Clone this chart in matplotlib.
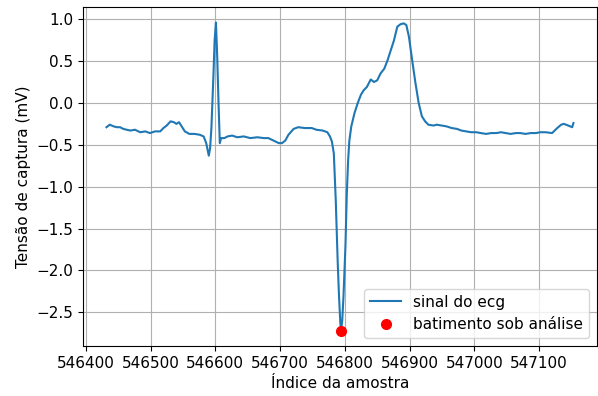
import matplotlib
matplotlib.use('Agg')
import matplotlib.pyplot as plt
import numpy as np

plt.rcParams['font.size'] = 11

# ECG trace (sample index, mV)
indice = [546432, 546437, 546443, 546448, 546453, 546458, 546463, 546469, 546476,
          546484, 546492, 546499, 546507, 546515, 546520, 546525, 546531, 546536,
          546540, 546544, 546548, 546553, 546560, 546568, 546576, 546582, 546586,
          546590, 546592, 546594, 546597, 546599, 546601, 546603, 546605, 546607,
          546609, 546614, 546619, 546626, 546634, 546644, 546654, 546665, 546675,
          546682, 546690, 546698, 546703, 546708, 546713, 546721, 546728, 546738,
          546749, 546756, 546766, 546773, 546777, 546780, 546783, 546786, 546789,
          546791, 546793, 546794, 546796, 546798, 546801, 546803, 546805, 546807,
          546810, 546815, 546820, 546825, 546829, 546834, 546840, 546845, 546850,
          546855, 546861, 546866, 546871, 546876, 546881, 546886, 546891, 546895,
          546899, 546904, 546909, 546914, 546919, 546924, 546929, 546937, 546942,
          546950, 546957, 546965, 546973, 546980, 546988, 546995, 547003, 547010,
          547018, 547026, 547034, 547041, 547049, 547056, 547064, 547071, 547079,
          547087, 547095, 547102, 547110, 547120, 547128, 547134, 547138, 547145,
          547151, 547153]
tensao = [-0.29, -0.26, -0.28, -0.29, -0.29, -0.31, -0.32, -0.33, -0.32,
          -0.35, -0.34, -0.36, -0.34, -0.34, -0.30, -0.27, -0.22, -0.23,
          -0.25, -0.23, -0.28, -0.34, -0.37, -0.37, -0.38, -0.40, -0.48,
          -0.63, -0.54, -0.30, 0.30, 0.75, 0.96, 0.55, 0.0, -0.48,
          -0.42, -0.42, -0.40, -0.39, -0.41, -0.40, -0.42, -0.41, -0.42,
          -0.42, -0.45, -0.48, -0.48, -0.45, -0.38, -0.31, -0.29, -0.30,
          -0.30, -0.32, -0.33, -0.35, -0.40, -0.46, -0.60, -1.16, -1.90,
          -2.30, -2.62, -2.72, -2.60, -2.30, -1.70, -1.10, -0.70, -0.45,
          -0.28, -0.12, 0.0, 0.10, 0.15, 0.19, 0.28, 0.25, 0.27,
          0.35, 0.41, 0.51, 0.63, 0.75, 0.91, 0.94, 0.95, 0.93,
          0.79, 0.51, 0.24, 0.0, -0.16, -0.22, -0.26, -0.27, -0.26,
          -0.27, -0.28, -0.30, -0.31, -0.33, -0.34, -0.35, -0.35, -0.36,
          -0.37, -0.36, -0.36, -0.35, -0.36, -0.37, -0.36, -0.36, -0.37,
          -0.36, -0.36, -0.35, -0.35, -0.36, -0.30, -0.26, -0.25, -0.27,
          -0.29, -0.24]

# beat under analysis
batimento_x = [546794]
batimento_y = [-2.72]

fig, ax = plt.subplots(figsize=(5.98, 3.96), dpi=100)
ax.plot(indice, tensao, label='sinal do ecg')
ax.plot(batimento_x, batimento_y, 'o', color='red', markersize=7, label='batimento sob análise')

ax.set_xlabel('Índice da amostra')
ax.set_ylabel('Tensão de captura (mV)')
ax.grid(True)
ax.legend(loc='lower right')

plt.subplots_adjust(left=0.139, right=0.998, top=0.982, bottom=0.126)
plt.savefig('out.png')
